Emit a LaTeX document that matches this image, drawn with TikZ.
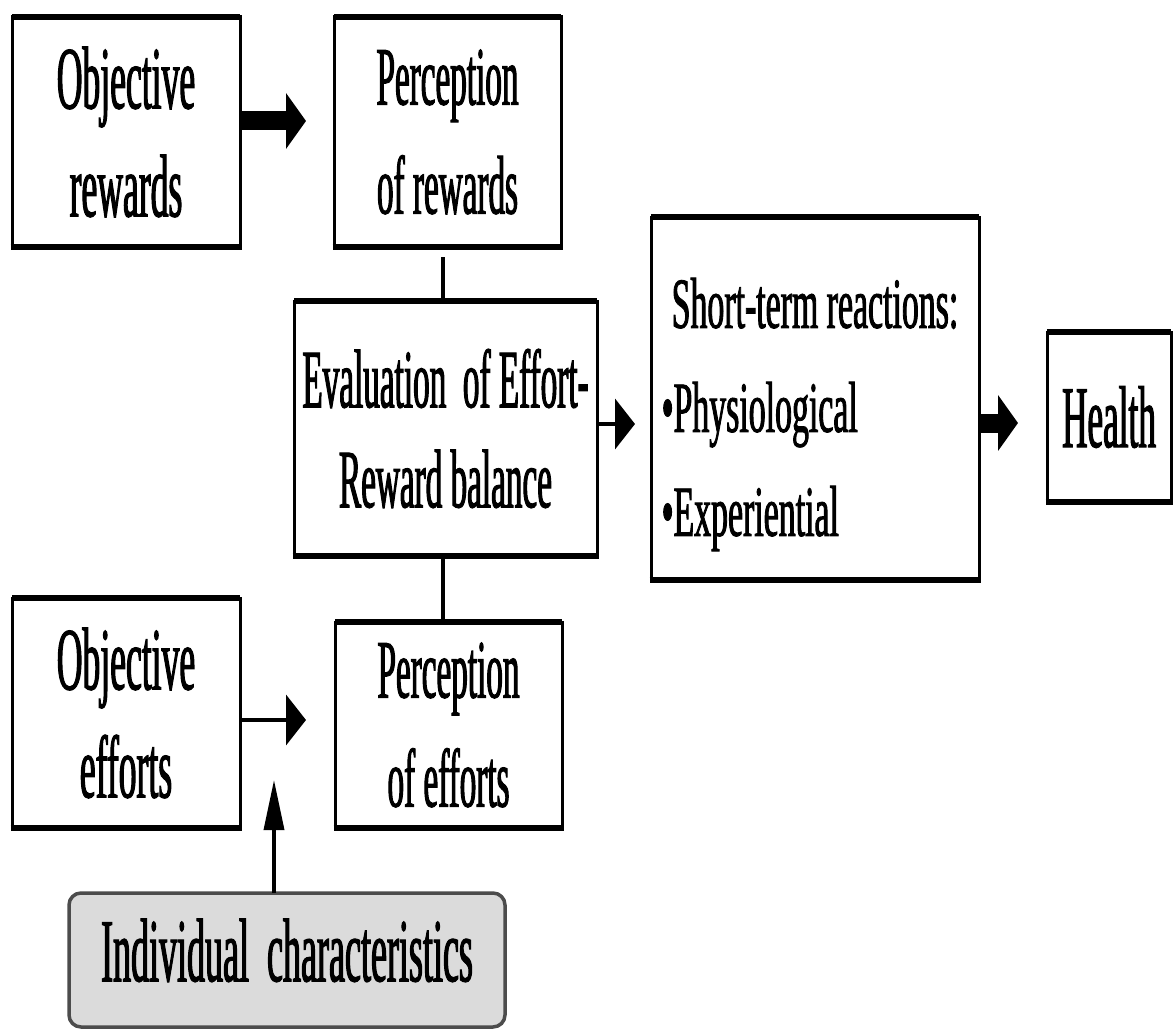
\documentclass[tikz,border=0pt]{standalone}
\usepackage{fontspec}
\setmainfont{Liberation Serif}
\newfontfamily\narrowserif[FakeStretch=0.40,FakeBold=1.2]{Liberation Serif}
\newfontfamily\listserif[FakeStretch=0.47,FakeBold=1.2]{Liberation Serif}
\usetikzlibrary{arrows.meta}

\begin{document}
\begin{tikzpicture}[x=1pt,y=-1pt,
  box/.style={draw, line width=3pt, outer sep=0pt, inner sep=0pt, align=center,
    font=\narrowserif\fontsize{86pt}{106pt}\selectfont},
  hedge/.style={line width=6pt, shorten <=-1.5pt, shorten >=-1.5pt},
  indivbox/.style={draw=black!70, fill=black!14, line width=3.5pt, rounded corners=12pt,
    outer sep=0pt, inner sep=0pt, align=center,
    font=\narrowserif\fontsize{90pt}{106pt}\selectfont},
  bigarrow/.style={line width=19pt, -{Triangle[length=20pt,width=55pt]}},
  thinarrow/.style={line width=4.5pt, -{Triangle[length=20pt,width=50pt]}},
  uparrow/.style={line width=3.5pt, -{Triangle[length=50pt,width=20pt]}},
  link/.style={line width=3.5pt}
]
\useasboundingbox (0,0) rectangle (1173,1030);

% boxes
\node[box, minimum width=228pt, minimum height=230pt,
  font=\narrowserif\fontsize{89pt}{108pt}\selectfont] (objR) at (126,132) {Objective\\rewards};
\node[box, minimum width=227pt, minimum height=230pt,
  font=\narrowserif\fontsize{83pt}{109pt}\selectfont] (perR) at (447.5,132) {Perception\\of rewards};
\node[box, minimum width=303pt, minimum height=255pt,
  font=\narrowserif\fontsize{83pt}{100pt}\selectfont] (eval) at (445.5,428.5) {Evaluation~~of Effort-\\Reward balance};
\node[box, minimum width=328pt, minimum height=363pt, align=left,
  font=\listserif\fontsize{72pt}{104pt}\selectfont] (short) at (815,398.5)
  {\rule{0pt}{82pt}Short-term reactions:\\\hspace*{-10pt}•Physiological\\\hspace*{-10pt}•Experiential};
\node[box, minimum width=124pt, minimum height=170pt,
  font=\narrowserif\fontsize{88pt}{106pt}\selectfont] (health) at (1109,417) {Health};
\node[box, minimum width=228pt, minimum height=230pt,
  font=\narrowserif\fontsize{89pt}{108pt}\selectfont] (objE) at (126,713) {Objective\\efforts};
\node[box, minimum width=227pt, minimum height=206pt,
  font=\narrowserif\fontsize{83pt}{109pt}\selectfont] (perE) at (448.5,725) {Perception\\of efforts};
\node[indivbox, minimum width=436pt, minimum height=134pt, text depth=20pt]
  (indiv) at (287,960) {Individual~~characteristics};

% heavier top and bottom edges
\foreach \n in {objR,perR,eval,short,health,objE,perE}
  \draw[hedge] (\n.north west) -- (\n.north east) (\n.south west) -- (\n.south east);

% arrow ends
\coordinate (tipR) at (306,121);
\coordinate (tipEv) at (635,424);
\coordinate (tipH) at (1018,423);
\coordinate (tipE) at (306,720);
\coordinate (tipI) at (274,780);

% connectors
\draw[bigarrow] (objR.east |- tipR) -- (tipR);
\draw[link, shorten >=10pt] (eval.north -| 443,0) -- (perR.south -| 443,0);
\draw[link] (eval.south -| 443,0) -- (perE.north -| 443,0);
\draw[thinarrow] (eval.east |- tipEv) -- (tipEv);
\draw[bigarrow] (short.east |- tipH) -- (tipH);
\draw[thinarrow] (objE.east |- tipE) -- (tipE);
\draw[uparrow] (indiv.north -| tipI) -- (tipI);
\end{tikzpicture}
\end{document}
